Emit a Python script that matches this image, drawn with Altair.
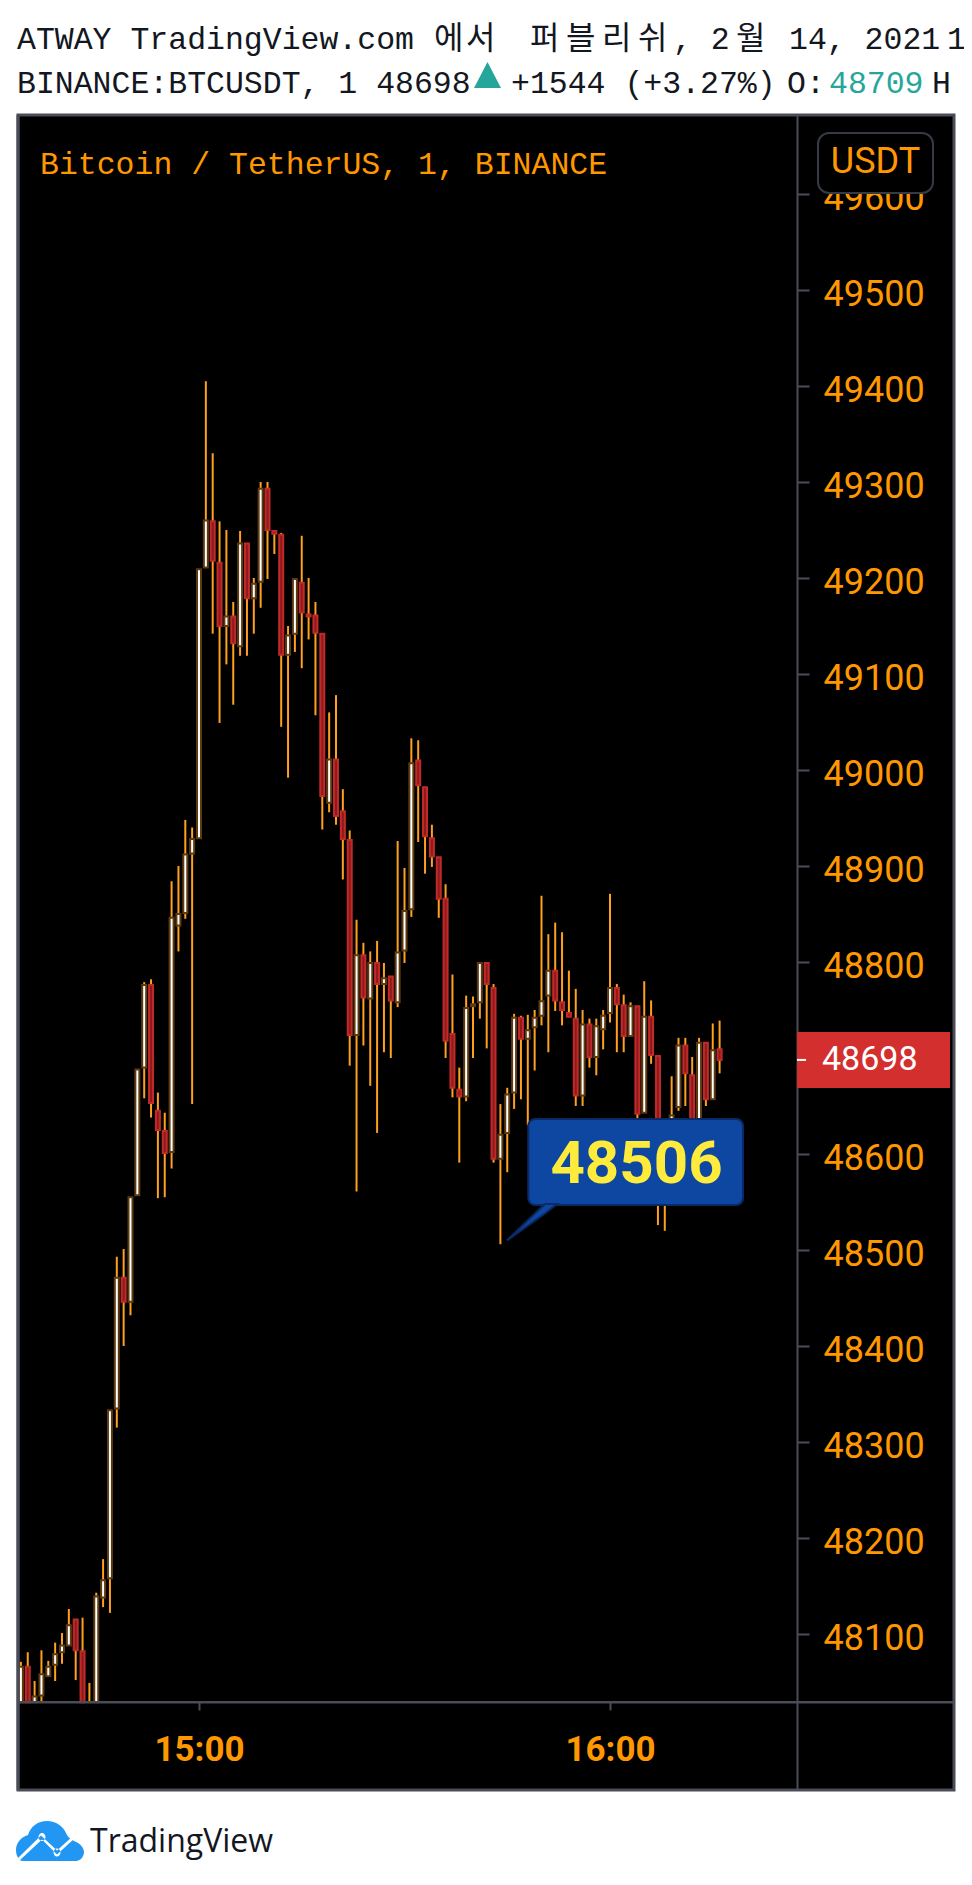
import altair as alt
import pandas as pd

minutes = list(range(-26, 77))
opens = [48029,48066,48029,48036,48056,48068,48081,48088,48115,48082,48029,48029,48138,48158,48335,48471,48446,48557,48690,48776,48645,48624,48602,48838,48851,48913,
         48929,49211,49259,49216,49150,49160,49129,49236,49179,49196,49293,49249,49245,49120,49142,49195,49162,49161,49142,48966,49011,48957,48927,48724,48807,48762,48799,48777,48785,48758,48812,48855,49010,48982,48929,48909,48866,48725,48667,48660,48754,48758,48799,48773,48595,48622,48664,48742,48720,48732,48744,48765,48791,48758,48747,48741,48661,48735,48701,48730,48747,48773,48755,48723,48754,48643,48743,48702,48620,48625,48649,48713,48682,48620,48716,48657,48709]
highs = [48071,48081,48051,48083,48072,48091,48101,48126,48115,48117,48049,48143,48178,48333,48493,48501,48555,48688,48779,48782,48664,48643,48884,48900,48948,48940,
         49209,49405,49330,49259,49250,49175,49249,49236,49200,49300,49300,49249,49247,49150,49199,49244,49200,49175,49142,49060,49078,48980,48937,48844,48820,48811,48822,48799,48785,48926,48898,49033,49031,48982,48943,48909,48881,48787,48690,48765,48764,48799,48799,48777,48652,48669,48746,48744,48745,48750,48869,48829,48841,48831,48791,48772,48750,48741,48741,48750,48871,48777,48766,48758,48754,48780,48760,48702,48630,48681,48721,48721,48701,48721,48716,48736,48739]
lows = [48029,48029,48029,48029,48056,48051,48069,48088,48052,48029,48029,48029,48128,48122,48315,48400,48432,48557,48658,48638,48554,48555,48585,48811,48845,48652,
        48929,49211,49142,49049,49110,49068,49119,49119,49142,49169,49199,49225,49045,48992,49123,49106,49136,49057,48938,48956,48943,48886,48692,48561,48713,48671,48622,48706,48700,48753,48799,48847,48925,48892,48899,48846,48700,48659,48591,48655,48700,48741,48710,48591,48506,48581,48647,48657,48630,48687,48734,48706,48749,48734,48743,48650,48650,48690,48682,48709,48737,48706,48706,48723,48637,48643,48694,48526,48520,48604,48645,48650,48610,48610,48650,48657,48684]
closes = [48066,48029,48035,48058,48066,48079,48088,48109,48083,48029,48029,48139,48156,48333,48471,48446,48555,48688,48776,48653,48625,48601,48846,48850,48912,48928,
          49209,49260,49218,49150,49160,49132,49236,49179,49194,49293,49250,49246,49120,49140,49199,49164,49160,49143,48973,49011,48952,48928,48724,48807,48763,48799,48777,48783,48760,48810,48853,49007,48984,48931,48910,48866,48718,48669,48660,48752,48756,48799,48777,48595,48620,48662,48742,48720,48729,48742,48759,48791,48760,48750,48743,48661,48735,48701,48733,48744,48773,48756,48723,48754,48642,48743,48703,48604,48594,48640,48713,48684,48620,48716,48657,48708,48698]

y_ticks = [48100,48200,48300,48400,48500,48600,48800,48900,49000,49100,49200,49300,49400,49500,49600]
x_ticks = [0, 60]
last_price = 48698
callout_price = 48506

tail_x = [44.96, 50.5, 52.26]
tail_y = [48510, 48548, 48548]
tail_y2 = [48510, 48538, 48548]
box_x = [48.07]
box_x2 = [79.42]
box_y = [48636.5]
box_y2 = [48546.9]

df = pd.DataFrame({"m": minutes, "o": opens, "h": highs, "l": lows, "c": closes})
df["dir"] = ["up" if c >= o else "down" for o, c in zip(opens, closes)]

GRID = "#4A4C58"
ORANGE = "#FF9800"
MONO = "Liberation Mono"
MS = 31.5
KR = "Noto Sans CJK KR"
INK = "#131722"

xs = alt.Scale(domain=[-26.423, 110.22], nice=False, zero=False, padding=0)
ys = alt.Scale(domain=[47937.5, 49682.3], nice=False, zero=False, padding=0)

xaxis = alt.Axis(
    title=None, grid=False, values=x_ticks, offset=-88, domainColor=GRID, domainWidth=2,
    tickColor=GRID, tickWidth=2, tickSize=8, labelColor=ORANGE, labelFont="Roboto",
    labelFontWeight="bold", labelFontSize=35, labelBaseline="alphabetic", labelPadding=50,
    labelExpr="datum.value == 0 ? '15:00' : '16:00'", labelOverlap=False, labelFlush=False,
)
yaxis = alt.Axis(
    title=None, grid=False, values=y_ticks, orient="right", offset=-157, domainColor=GRID,
    domainWidth=2, tickColor=GRID, tickWidth=2, tickSize=12, labelColor=ORANGE, labelFont="Roboto",
    labelFontSize=36, labelBaseline="alphabetic", labelOffset=15, labelPadding=14, format="d",
    labelOverlap=False, labelFlush=False,
)

X = alt.X("m:Q", scale=xs, axis=xaxis)
Y = alt.Y("h:Q", scale=ys, axis=yaxis)

wicks = alt.Chart(df).mark_rule(strokeWidth=2, color="#FFA01E").encode(x=X, y=Y, y2=alt.Y2("l:Q"))
bodies = alt.Chart(df).mark_bar(size=4, strokeWidth=2).encode(
    x=X,
    y=alt.Y("o:Q", scale=ys, axis=yaxis),
    y2=alt.Y2("c:Q"),
    fill=alt.Fill("dir:N", scale=alt.Scale(domain=["up", "down"], range=["#FFFFFF", "#8E1B1B"]), legend=None),
    stroke=alt.Stroke("dir:N", scale=alt.Scale(domain=["up", "down"], range=["#5D3A0F", "#C22A2A"]), legend=None),
)


def one(**kw):
    return pd.DataFrame({k: [v] for k, v in kw.items()})


def px(x):
    return alt.value(x - 18)


def py(y):
    return alt.value(y - 115)


def label(s, x, y, size, color=INK, font=MONO, weight="normal", align="left"):
    return alt.Chart(one(t=s)).mark_text(
        font=font, fontSize=size, fontWeight=weight, color=color, align=align, baseline="alphabetic"
    ).encode(text="t:N", x=px(x), y=py(y))


def box(x0, x1, y0, y1, **mk):
    return alt.Chart(one(a=0)).mark_rect(**mk).encode(x=px(x0), x2=px(x1), y=py(y0), y2=py(y1))


def shape(path, x, y, color):
    return alt.Chart(one(a=0)).mark_point(
        shape=path, size=4, filled=True, opacity=1, color=color, strokeWidth=0
    ).encode(x=px(x), y=py(y))


# panes drawn over the candles
pane_rule = alt.Chart(one(a=0)).mark_rule(color=GRID, strokeWidth=2).encode(x=px(19), x2=px(953), y=py(1702))
left_rule = alt.Chart(one(a=0)).mark_rule(color=GRID, strokeWidth=3).encode(x=px(18), y=py(115), y2=py(1790))

# currency button
usdt_box = box(818, 933, 133, 193, fill="#000000", stroke="#363A45", strokeWidth=2, cornerRadius=11)
usdt_txt = label("USDT", 875.5, 173, 36, ORANGE, "Roboto", align="center")

# last price tag
tag_box = box(797, 950, 1032, 1088, fill="#D32F2F")
tag_tick = alt.Chart(one(p=last_price)).mark_rule(color="#FFFFFF", strokeWidth=2).encode(
    x=px(797), x2=px(806), y=alt.Y("p:Q", scale=ys, axis=yaxis)
)
tag_txt = label(str(last_price), 822, 1070, 34, "#FFFFFF", "Roboto")

# callout
tail = alt.Chart(pd.DataFrame({"m": tail_x, "p": tail_y, "p2": tail_y2})).mark_area(
    color="#0D47A1", stroke="#0A2A66", strokeWidth=2
).encode(x=X, y=alt.Y("p:Q", scale=ys, axis=yaxis), y2=alt.Y2("p2:Q"))
call_box = alt.Chart(pd.DataFrame({"m": box_x, "m2": box_x2, "p": box_y, "p2": box_y2})).mark_rect(
    fill="#0D47A1", stroke="#0A2A66", strokeWidth=2, cornerRadius=7
).encode(x=X, x2=alt.X2("m2:Q"), y=alt.Y("p:Q", scale=ys, axis=yaxis), y2=alt.Y2("p2:Q"))
call_txt = label(str(callout_price), 636.5, 1183, 60, "#FFEB3B", "Roboto", "bold", "center")

# header
head = [
    label("ATWAY TradingView.com", 17, 49, MS),
    label("에", 434, 49, 32, font=KR),
    label("서", 466, 49, 32, font=KR),
    label("퍼", 530, 49, 32, font=KR),
    label("블", 566, 49, 32, font=KR),
    label("리", 602, 49, 32, font=KR),
    label("쉬", 638, 49, 32, font=KR),
    label(", 2", 673, 49, MS),
    label("월", 736, 49, 32, font=KR),
    label("14, 2021", 789, 49, MS),
    label("1", 947, 49, MS),
    label("BINANCE:BTCUSDT, 1 48698", 17, 93, MS),
    shape("M13.5 0 L27 26 L0 26 Z", 474, 62, "#26A69A"),
    label("+1544 (+3.27%)", 511, 93, MS),
    label("O:", 787, 93, MS),
    label("48709", 829, 93, MS, "#26A69A"),
    label("H", 932, 93, MS),
    label("Bitcoin / TetherUS, 1, BINANCE", 40, 174, MS, ORANGE),
]

# footer logo
cloud = shape(
    "M7 40 C3 40 0 35 0 29 C0 22 5 16 12 14 C15 5 22 0 31 0 C40 0 47 5 50 12 C51 15 54 18 58 20 "
    "C64 22 68 27 68 31 C68 36 64 40 60 40 Z",
    16, 1821, "#2196F3",
)
zigzag = shape(
    "M1.5 37.5 L25 14.5 L41 29.5 L57 15 L59 17 L41 33.5 L26 18.5 L3.5 39.5 Z "
    "M22.5 16 a3.5 4 0 1 0 7 0 a3.5 4 0 1 0 -7 0 Z M37.5 31.5 a3.5 4 0 1 0 7 0 a3.5 4 0 1 0 -7 0 Z",
    16, 1821, "#FFFFFF",
)
logo_txt = label("TradingView", 90, 1852, 32, INK, "Open Sans")

chart = alt.layer(
    wicks, bodies, pane_rule, left_rule,
    usdt_box, usdt_txt, tag_box, tag_tick, tag_txt,
    call_box, tail, call_txt,
    *head, cloud, zigzag, logo_txt,
).properties(
    width=936, height=1675, background="#FFFFFF",
    padding={"left": 10, "top": 107, "right": 10, "bottom": 80},
    autosize=alt.AutoSizeParams(type="none"),
).configure_view(fill="#000000", stroke=GRID, strokeWidth=3)

chart.save("out.html", embed_options={"renderer": "svg", "actions": False})
